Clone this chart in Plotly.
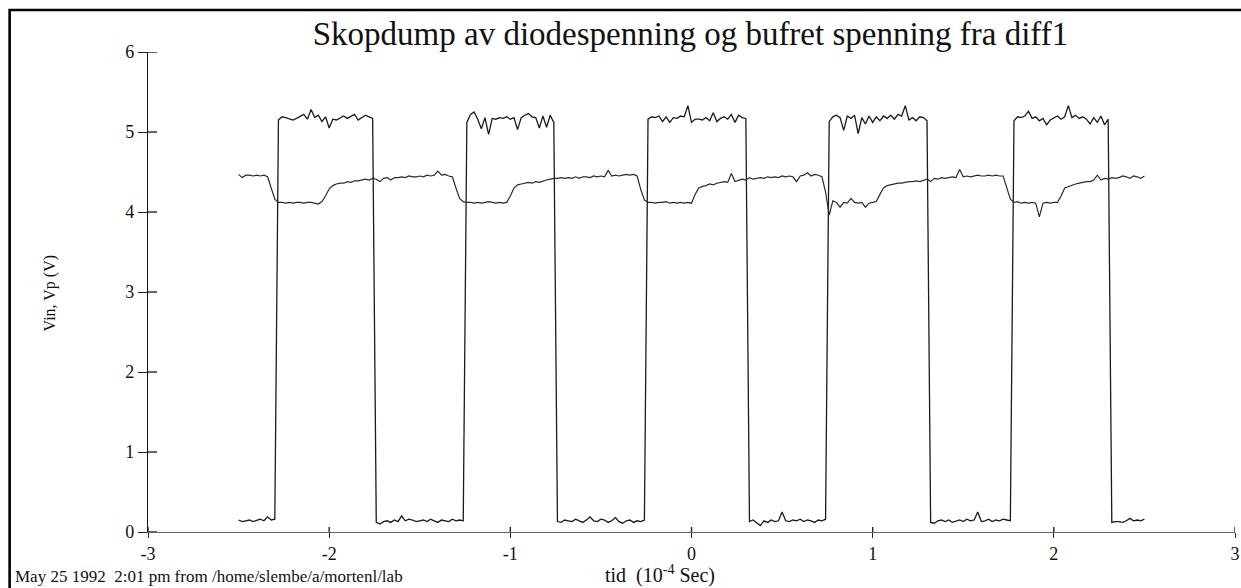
import plotly.graph_objects as go

# Sampling of the scope trace (time in 1e-4 s)
T0 = -2.50
DT = 0.02

# Vin: square wave (V), one sample every DT starting at T0
vin = [
    # low  -2.50 .. -2.30
    0.15, 0.13, 0.14, 0.15, 0.13, 0.15, 0.16, 0.14, 0.19, 0.15, 0.16,
    # high -2.28 .. -1.76
    5.15, 5.19, 5.18, 5.16, 5.15, 5.17, 5.19, 5.22, 5.16, 5.28, 5.18, 5.21, 5.13, 5.19,
    5.05, 5.16, 5.15, 5.18, 5.20, 5.17, 5.19, 5.22, 5.15, 5.18, 5.21, 5.19, 5.17,
    # low  -1.74 .. -1.26
    0.12, 0.10, 0.13, 0.14, 0.12, 0.15, 0.13, 0.20, 0.14, 0.16, 0.15, 0.13, 0.14,
    0.15, 0.13, 0.16, 0.14, 0.12, 0.15, 0.14, 0.13, 0.16, 0.14, 0.15, 0.14,
    # high -1.24 .. -0.76
    5.12, 5.22, 5.25, 5.16, 5.04, 5.18, 4.97, 5.17, 5.16, 5.18, 5.17, 5.19, 5.16,
    5.18, 5.03, 5.18, 5.21, 5.23, 5.19, 5.18, 5.05, 5.20, 5.06, 5.21, 5.12,
    # low  -0.74 .. -0.26
    0.13, 0.12, 0.15, 0.14, 0.13, 0.16, 0.14, 0.12, 0.15, 0.19, 0.14, 0.13, 0.16,
    0.15, 0.12, 0.14, 0.18, 0.13, 0.11, 0.14, 0.15, 0.12, 0.14, 0.13, 0.15,
    # high -0.24 .. 0.30
    5.16, 5.19, 5.18, 5.20, 5.13, 5.19, 5.12, 5.18, 5.17, 5.20, 5.19, 5.33, 5.12, 5.16,
    5.16, 5.15, 5.18, 5.14, 5.24, 5.13, 5.17, 5.19, 5.16, 5.22, 5.12, 5.21, 5.18, 5.17,
    # low  0.32 .. 0.74
    0.13, 0.15, 0.11, 0.08, 0.14, 0.12, 0.15, 0.13, 0.14, 0.25, 0.14,
    0.13, 0.15, 0.14, 0.16, 0.13, 0.15, 0.14, 0.12, 0.15, 0.14, 0.16,
    # high 0.76 .. 1.30
    5.13, 5.19, 5.21, 5.18, 5.02, 5.20, 5.17, 5.21, 4.98, 5.18, 5.10, 5.20, 5.12, 5.19,
    5.14, 5.20, 5.17, 5.21, 5.16, 5.22, 5.20, 5.33, 5.15, 5.18, 5.14, 5.19, 5.18, 5.14,
    # low  1.32 .. 1.76
    0.12, 0.11, 0.14, 0.15, 0.13, 0.15, 0.12, 0.14, 0.15, 0.13, 0.16, 0.14,
    0.15, 0.25, 0.13, 0.14, 0.16, 0.13, 0.15, 0.14, 0.16, 0.15, 0.14,
    # high 1.78 .. 2.30
    5.14, 5.19, 5.18, 5.20, 5.26, 5.17, 5.19, 5.14, 5.17, 5.09, 5.15, 5.18, 5.20, 5.16,
    5.19, 5.33, 5.18, 5.21, 5.17, 5.19, 5.16, 5.10, 5.18, 5.12, 5.20, 5.09, 5.16,
    # low  2.32 .. 2.50
    0.12, 0.13, 0.13, 0.12, 0.14, 0.17, 0.14, 0.15, 0.14, 0.16,
]

# Vp: buffered diode voltage (V), same sampling
vp = [
    # -2.50 .. -2.34
    4.47, 4.43, 4.46, 4.46, 4.45, 4.46, 4.45, 4.46, 4.44,
    # -2.32 .. -2.28 (drop)
    4.30, 4.16, 4.12,
    # -2.26 .. -2.04
    4.12, 4.11, 4.12, 4.11, 4.12, 4.12, 4.11, 4.12, 4.12, 4.11, 4.10, 4.13,
    # -2.02 .. -1.26
    4.20, 4.29, 4.33, 4.35, 4.36, 4.36, 4.38, 4.37, 4.39, 4.39, 4.40, 4.41, 4.40,
    4.42, 4.41, 4.38, 4.42, 4.43, 4.40, 4.43, 4.43, 4.44, 4.43, 4.45, 4.44, 4.44,
    4.45, 4.44, 4.46, 4.45, 4.46, 4.51, 4.46, 4.47, 4.45, 4.44, 4.30, 4.17, 4.13,
    # -1.24 .. -1.02
    4.12, 4.12, 4.11, 4.12, 4.11, 4.12, 4.13, 4.12, 4.11, 4.12, 4.11, 4.12,
    # -1.00 .. -0.24
    4.20, 4.30, 4.34, 4.35, 4.36, 4.37, 4.36, 4.38, 4.37, 4.39, 4.40, 4.41, 4.42,
    4.42, 4.43, 4.42, 4.43, 4.42, 4.44, 4.42, 4.44, 4.44, 4.43, 4.45, 4.44, 4.45,
    4.44, 4.52, 4.45, 4.46, 4.45, 4.46, 4.47, 4.46, 4.47, 4.45, 4.28, 4.15, 4.12,
    # -0.22 .. 0.00
    4.12, 4.11, 4.12, 4.12, 4.13, 4.11, 4.12, 4.11, 4.12, 4.11, 4.12, 4.11,
    # 0.02 .. 0.78
    4.22, 4.30, 4.32, 4.33, 4.35, 4.34, 4.36, 4.37, 4.38, 4.37, 4.48, 4.38, 4.40,
    4.41, 4.40, 4.43, 4.41, 4.42, 4.43, 4.42, 4.44, 4.43, 4.44, 4.43, 4.45, 4.44,
    4.45, 4.44, 4.38, 4.45, 4.46, 4.49, 4.45, 4.47, 4.46, 4.44, 4.25, 3.96, 4.14,
    # 0.80 .. 1.02
    4.12, 4.06, 4.12, 4.11, 4.17, 4.12, 4.11, 4.12, 4.06, 4.11, 4.12, 4.13,
    # 1.04 .. 1.78
    4.22, 4.30, 4.33, 4.34, 4.35, 4.36, 4.36, 4.37, 4.38, 4.38, 4.39, 4.38, 4.40,
    4.41, 4.38, 4.42, 4.41, 4.43, 4.42, 4.43, 4.44, 4.43, 4.53, 4.44, 4.45, 4.44,
    4.45, 4.46, 4.45, 4.45, 4.46, 4.45, 4.46, 4.45, 4.45, 4.30, 4.16, 4.12,
    # 1.80 .. 2.02
    4.13, 4.11, 4.12, 4.11, 4.12, 4.11, 3.94, 4.11, 4.12, 4.11, 4.12, 4.12,
    # 2.04 .. 2.50
    4.20, 4.30, 4.32, 4.34, 4.35, 4.36, 4.37, 4.38, 4.38, 4.40, 4.46, 4.40,
    4.42, 4.41, 4.43, 4.42, 4.43, 4.45, 4.44, 4.42, 4.45, 4.44, 4.42, 4.45,
]

t_vin = [round(T0 + DT * i, 2) for i in range(len(vin))]
t_vp = [round(T0 + DT * i, 2) for i in range(len(vp))]

x_ticks = [-3, -2, -1, 0, 1, 2, 3]
x_tick_text = ["-3", "-2", "-1", "0", "1", "2", "3"]
y_ticks = [0, 1, 2, 3, 4, 5, 6]
y_tick_text = ["0", "1", "2", "3", "4", "5", "6"]

title_text = "Skopdump av diodespenning og bufret spenning fra diff1"
x_title = "tid  (10<sup>-4</sup> Sec)"
y_title = "Vin, Vp (V)"
footer = "May 25 1992  2:01 pm from /home/slembe/a/mortenl/lab"

FONT = "Liberation Serif, Times New Roman, serif"
W, H = 1241, 588
ML, MR, MT, MB = 148, 1, 52, 56
PW = W - ML - MR
PH = H - MT - MB

def px_to_paper_x(px):
    return (px - ML) / PW

def px_to_paper_y(py):
    return (H - MB - py) / PH

fig = go.Figure()
fig.add_trace(go.Scatter(x=t_vin, y=vin, mode="lines", name="Vin",
                         line=dict(color="#1a1a1a", width=1.3), showlegend=False))
fig.add_trace(go.Scatter(x=t_vp, y=vp, mode="lines", name="Vp",
                         line=dict(color="#2a2a2a", width=1.2), showlegend=False))

# inner halves of the crossing tick marks (outer halves are the axis ticks)
tick_shapes = []
for v in y_ticks:
    tick_shapes.append(dict(type="line", xref="paper", xsizemode="pixel", xanchor=0,
                            x0=0, x1=9, yref="y", y0=v, y1=v,
                            line=dict(color="#222", width=1.4)))
for v in x_ticks:
    tick_shapes.append(dict(type="line", yref="paper", ysizemode="pixel", yanchor=0,
                            y0=0, y1=5, xref="x", x0=v, x1=v,
                            line=dict(color="#222", width=1.4)))

frame = dict(type="rect", xref="paper", yref="paper",
             x0=px_to_paper_x(9), x1=px_to_paper_x(1262),
             y0=px_to_paper_y(600), y1=px_to_paper_y(10),
             line=dict(color="black", width=2.6), fillcolor="rgba(0,0,0,0)")

fig.update_layout(
    width=W, height=H,
    margin=dict(l=ML, r=MR, t=MT, b=MB, pad=0),
    paper_bgcolor="white", plot_bgcolor="white",
    font=dict(family=FONT, color="#111"),
    xaxis=dict(range=[-3, 3], tickvals=x_ticks, ticktext=x_tick_text,
               showgrid=False, zeroline=False, ticks="outside", ticklen=5,
               tickcolor="#222", tickwidth=1.4, ticklabeloverflow="allow",
               showline=True, linecolor="#666", linewidth=1.4,
               tickfont=dict(family=FONT, size=18, color="#111")),
    yaxis=dict(range=[0, 6], tickvals=y_ticks, ticktext=y_tick_text,
               showgrid=False, zeroline=False, ticks="outside", ticklen=9,
               tickcolor="#222", tickwidth=1.4,
               showline=True, linecolor="#111", linewidth=1.4,
               tickfont=dict(family=FONT, size=18, color="#111")),
    title=dict(text=title_text, x=px_to_paper_x(693), xref="paper",
               y=1 - 33 / H, yref="container", xanchor="center", yanchor="middle",
               font=dict(family=FONT, size=33, color="#111")),
    shapes=tick_shapes + [frame],
    annotations=[
        dict(text=x_title, x=px_to_paper_x(662), y=px_to_paper_y(574),
             xref="paper", yref="paper", showarrow=False, xanchor="center",
             yanchor="middle", font=dict(family=FONT, size=20, color="#111")),
        dict(text=y_title, x=px_to_paper_x(50), y=px_to_paper_y(293),
             xref="paper", yref="paper", showarrow=False, xanchor="center",
             yanchor="middle", textangle=-90,
             font=dict(family=FONT, size=16, color="#111")),
        dict(text=footer, x=px_to_paper_x(12), y=px_to_paper_y(588),
             xref="paper", yref="paper", showarrow=False, xanchor="left",
             yanchor="bottom", font=dict(family=FONT, size=17, color="#111")),
    ],
)

fig.write_html("out.html")
